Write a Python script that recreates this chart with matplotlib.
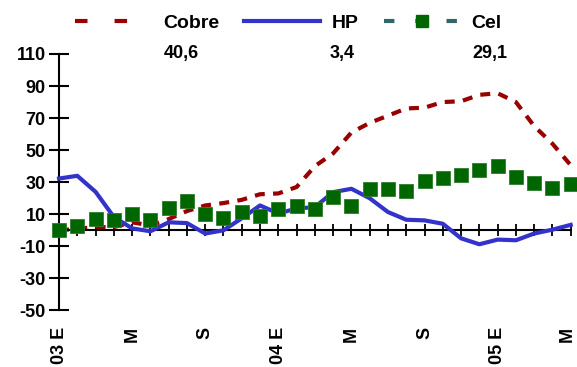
import matplotlib.pyplot as plt
from matplotlib.lines import Line2D

plt.rcParams['font.family'] = ['Liberation Sans', 'DejaVu Sans']
plt.rcParams['font.weight'] = 'bold'
plt.rcParams['axes.unicode_minus'] = False

# datos mensuales ene-2003 a may-2005
cobre = [0, 1, 2, 2, 5, 3, 7, 12, 15.5, 17, 19, 22.5, 23, 27, 40, 48,
         61, 67, 71.5, 76, 76.5, 80, 80.5, 84.5, 85.5, 80, 65, 54, 40.6]
hp = [32.3, 34, 24, 8.3, 1.2, -0.6, 5, 4.5, -2, 0, 7.5, 15.5, 10.5, 13.6,
      14.5, 23.8, 25.9, 20, 11.4, 6.6, 6.2, 4.1, -5, -8.7, -5.8, -6.2, -2, 0.4, 3.4]
cel = [0.4, 2.7, 7.2, 6.2, 10.3, 6.6, 13.9, 18, 9.9, 7.9, 11.4, 8.7, 13.5, 15.1,
       13.5, 20.7, 14.9, 25.5, 25.9, 24.8, 30.6, 32.5, 34.2, 37.9, 40.4, 33.1,
       29.4, 26.5, 29.1]
x_labels = ['03 E', 'M', 'S', '04 E', 'M', 'S', '05 E', 'M']
label_pos = [6.7, 15.5, 23.6]

col_cobre = '#990000'
col_hp = '#3333CC'
col_cel = '#006600'
col_cel_line = '#336666'

x = list(range(len(hp)))

fig = plt.figure(figsize=(5.77, 3.67), dpi=100)
ax = fig.add_axes([0.1023, 0.154, 0.8868, 0.699])

ax.plot(x, cobre, color=col_cobre, lw=3, dashes=(2.4, 2), zorder=2, clip_on=False)
ax.plot(x, hp, color=col_hp, lw=3, zorder=3, clip_on=False)
ax.plot(x, cel, color=col_cel, ls='none', marker='s', ms=9.5,
        mec='#2e7d2e', mew=0.6, zorder=4, clip_on=False)

ax.set_xlim(0, 28)
ax.set_ylim(-50, 110)
ax.set_yticks(range(-50, 111, 20))

for s in ['top', 'right']:
    ax.spines[s].set_visible(False)
ax.spines['left'].set_linewidth(1.5)
ax.spines['bottom'].set_position(('data', 0))
ax.spines['bottom'].set_linewidth(1.5)

ax.set_xticks(x)
ax.set_xticklabels([])
ax.tick_params(axis='x', direction='inout', length=9, width=1.3)
ax.tick_params(axis='y', direction='inout', length=15, width=1.5, labelsize=13, pad=2)

for i, lab in enumerate(x_labels):
    xp = min(i * 4, 27.8)
    ax.text(xp, -0.063, lab, transform=ax.get_xaxis_transform(), rotation=90,
            ha='center', va='top', fontsize=13, fontweight='bold')

# ultimo dato de cada serie
for pos, serie in zip(label_pos, [cobre, hp, cel]):
    ax.text(pos, 110, f"{serie[-1]:.1f}".replace('.', ','), ha='center', va='center',
            fontsize=13, fontweight='bold')

handles = [
    Line2D([], [], color=col_cobre, lw=3, dashes=(3, 6.5)),
    Line2D([], [], color=col_hp, lw=3),
    Line2D([], [], color=col_cel_line, lw=3, dashes=(2.5, 5), marker='s',
           ms=8, mfc=col_cel, mec=col_cel),
]
fig.legend(handles, ['Cobre', 'HP', 'Cel'], loc='center', bbox_to_anchor=(0.5, 0.937),
           ncol=3, frameon=False, fontsize=14, handlelength=3.9, handletextpad=0.6,
           columnspacing=1.3, numpoints=1)

fig.savefig('out.png', dpi=100)
